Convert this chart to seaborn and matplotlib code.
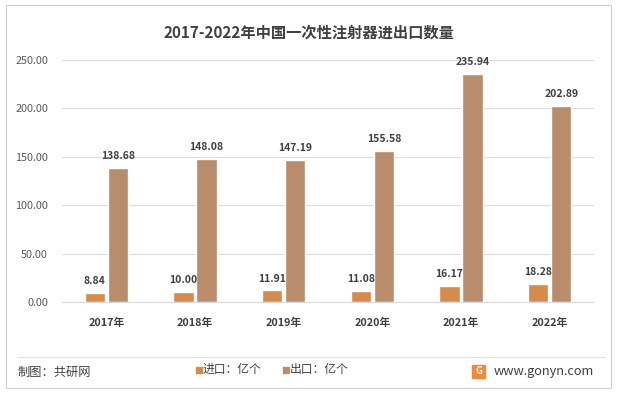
import matplotlib
matplotlib.use("Agg")
import matplotlib.pyplot as plt
import seaborn as sns
import pandas as pd
from matplotlib.patches import Rectangle
from matplotlib.lines import Line2D

years = ["2017年", "2018年", "2019年", "2020年", "2021年", "2022年"]
imports = [8.84, 10.00, 11.91, 11.08, 16.17, 18.28]
exports = [138.68, 148.08, 147.19, 155.58, 235.94, 202.89]
series = ["进口：亿个", "出口：亿个"]
yticks = [0, 50, 100, 150, 200, 250]

sns.set_theme(style="white")
plt.rcParams['font.family'] = ['Noto Sans CJK SC', 'DejaVu Sans']

df = pd.DataFrame({
    "year": years * 2,
    "value": imports + exports,
    "series": [series[0]] * len(years) + [series[1]] * len(years),
})

colors = ["#D58B4B", "#B98C6C"]
text_c = "#404040"

fig = plt.figure(figsize=(6.18, 3.93), dpi=100)
ax = fig.add_axes([62 / 618, 1 - 302 / 393, 532 / 618, 242 / 393])

sns.barplot(data=df, x="year", y="value", hue="series", palette=colors,
            width=0.52, gap=0.12, ax=ax, legend=False, saturation=1)

for cont in ax.containers:
    ax.bar_label(cont, fmt="%.2f", padding=5, fontsize=7.5,
                 fontweight="bold", color=text_c)

ax.set_ylim(0, 250)
ax.set_xlim(-0.5, len(years) - 0.5)
ax.set_yticks(yticks)
ax.set_yticklabels([f"{v:.2f}" for v in yticks], fontsize=7.8, color="#595959")
ax.tick_params(axis="y", length=0, pad=10)
ax.tick_params(axis="x", length=0, pad=11)
for lbl in ax.get_xticklabels():
    lbl.set_fontsize(7.8)
    lbl.set_fontweight("bold")
    lbl.set_color(text_c)
ax.set_xlabel("")
ax.set_ylabel("")
ax.grid(axis="y", color="#DDDDDD", linewidth=0.8)
ax.set_axisbelow(True)
for s in ["top", "right", "left"]:
    ax.spines[s].set_visible(False)
ax.spines["bottom"].set_color("#D9D9D9")
ax.spines["bottom"].set_linewidth(0.8)

fig.text(0.5, 1 - 33 / 393, "2017-2022年中国一次性注射器进出口数量",
         ha="center", va="center", fontsize=11, fontweight="bold", color=text_c)

# frame and footer
fig.patches.append(Rectangle((6 / 618, 5 / 393), 605 / 618, 383 / 393,
                             transform=fig.transFigure, fill=False,
                             edgecolor="#D0D0D0", linewidth=0.8))
fig.lines.append(Line2D([17 / 618, 605 / 618], [1 - 357 / 393, 1 - 357 / 393],
                        transform=fig.transFigure, color="#E0E0E0", linewidth=0.8))
fig.text(17 / 618, 1 - 372 / 393, "制图：共研网", ha="left", va="center",
         fontsize=8.8, color=text_c)

leg_x = [196, 283]
for x, name, c in zip(leg_x, series, colors):
    fig.patches.append(Rectangle(((x) / 618, 1 - 373 / 393), 6 / 618, 6 / 393,
                                 transform=fig.transFigure, color=c))
    fig.text((x + 7) / 618, 1 - 369 / 393, name, ha="left", va="center",
             fontsize=8.5, color=text_c)

fig.patches.append(Rectangle((472 / 618, 1 - 378 / 393), 13 / 618, 13 / 393,
                             transform=fig.transFigure, color="#F08A3A"))
fig.text(478.5 / 618, 1 - 371.5 / 393, "G", ha="center", va="center",
         fontsize=7, fontweight="bold", color="white")
fig.text(494 / 618, 1 - 371 / 393, "www.gonyn.com", ha="left", va="center",
         fontsize=9.2, color=text_c)

fig.savefig("out.png", dpi=100)
